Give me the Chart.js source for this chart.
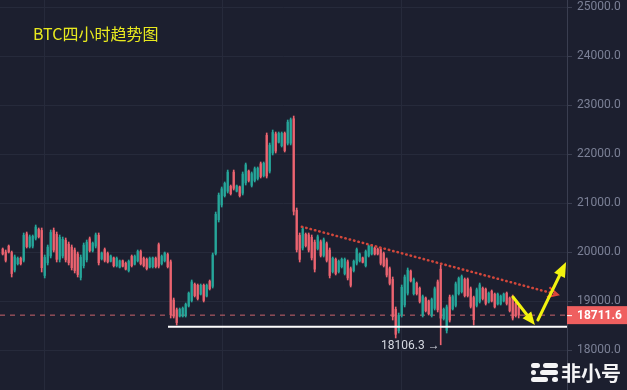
<!DOCTYPE html>
<html><head><meta charset="utf-8">
<script src="https://cdn.jsdelivr.net/npm/chart.js@4.4.1/dist/chart.umd.min.js"></script>
<style>html,body{margin:0;padding:0;background:#1c1f2f;overflow:hidden}canvas{display:block}</style>
</head><body><canvas id="c" width="627" height="390"></canvas>
<script>
// ---- data (4h BTC candles) ----
const opens=[
20060,20000,20120,19990,19630,19760,19870,19830,20370,20110,
20120,20280,20460,20440,19520,19780,19920,20440,20360,19850,
19920,20240,20160,20100,20040,19960,19480,19720,19840,20270,
20030,20120,20340,19860,20050,19970,19810,19880,19720,19690,
19820,19770,19620,19910,19750,19820,20010,19870,19850,19690,
19700,19870,20150,19760,19820,19950,19800,19020,18820,18690,
18690,18700,18900,19010,19340,19320,19140,19320,19100,19400,
19300,19970,20660,20960,21150,21240,21340,21630,21240,21330,
21200,21410,21650,21360,21460,21500,21800,21560,22380,21650,
22020,22410,22240,22170,22420,22220,22220,22720,20850,20340,
20080,20360,20350,20300,20200,20070,20210,19930,20170,20040,
19600,19850,19600,19700,19560,19800,19660,19620,19770,19820,
19880,19720,19920,19960,20080,20060,20050,19970,19840,19660,
19440,18830,18390,18720,18920,19160,19610,19150,19360,19260,
18710,19060,19000,18710,18850,19390,19650,18640,18400,19080,
18840,18910,19150,19190,19440,19440,19250,19070,18910,18990,
19260,19240,18980,19200,19140,18940,18940,19000,19160,19060,
19090,18950,18880];
const highs=[
20082,20041,20143,20020,19939,19898,19898,20388,20408,20347,
20347,20551,20490,20490,19939,20143,20449,20490,20408,20347,
20306,20286,20204,20143,20082,20000,19939,20184,20245,20306,
20204,20388,20388,20000,20082,20000,19939,19898,19898,19837,
19837,19796,19837,19939,19939,20041,20041,19898,19878,19898,
19898,19898,20184,19939,20000,19980,19837,19061,18857,18857,
18878,18959,19184,19429,19367,19347,19347,19347,19347,19429,
19980,20816,21204,21327,21429,21673,21367,21673,21367,21347,
21633,21816,21673,21633,21735,21735,21837,21837,22429,22224,
22490,22449,22449,22449,22449,22694,22735,22775,20898,20388,
20510,20388,20388,20347,20245,20347,20245,20286,20204,20082,
19898,19878,19837,19878,19878,19837,19694,19837,20082,19980,
19898,20041,20143,20143,20102,20082,20082,20000,19878,19694,
19490,18878,18755,19327,19531,19674,19633,19470,19388,19286,
19122,19082,19020,19061,19286,19429,19735,18857,18918,19122,
19122,19388,19490,19531,19470,19470,19286,19100,19265,19367,
19286,19265,19184,19225,19163,19163,19122,19163,19184,19082,
19122,18980,18918];
const lows=[
19939,19796,19980,19490,19592,19735,19735,19796,20082,20082,
20082,20245,20286,19592,19470,19735,19878,20000,19796,19796,
19878,19796,19735,19633,19572,19490,19429,19674,19796,20000,
20000,20082,19735,19837,19796,19776,19796,19694,19694,19674,
19694,19633,19592,19694,19735,19796,19735,19694,19633,19674,
19674,19674,19674,19735,19796,19674,18653,18653,18510,18673,
18673,18673,18878,18980,19082,19020,19122,18980,19082,19225,
19265,19939,20612,20918,21122,21204,21163,21265,21225,21122,
21163,21367,21429,21327,21429,21469,21510,21531,21510,21612,
21980,22020,22224,22143,22041,22184,22184,20755,20000,19796,
20041,20102,20000,19837,19592,20041,19898,19898,19796,19470,
19572,19531,19572,19674,19531,19429,19286,19592,19735,19796,
19776,19694,19898,19939,19939,19939,19735,19694,19490,19327,
18612,18245,18347,18673,18878,19122,19388,19122,19122,18959,
18673,18776,18714,18673,18816,18776,18106.3,18612,18347,18571,
18816,18878,19122,19163,19082,19082,18857,18510,18878,18959,
19020,18918,18959,18980,18857,18918,18918,18980,18918,18776,
18612,18673,18653];
const closes=[
19960,19830,20000,19560,19900,19870,19760,20340,20110,20310,
20320,20510,20310,19680,19890,20100,20400,20040,19850,20300,
20260,19840,19780,19680,19620,19540,19890,20140,20200,20030,
20180,20350,19780,19980,19830,19800,19920,19720,19870,19820,
19710,19650,19810,19720,19910,20010,19760,19720,19660,19870,
19880,19700,19710,19910,19980,19700,18720,18690,18560,18830,
18850,18930,19160,19390,19110,19050,19320,19010,19320,19250,
19940,20770,21160,21290,21400,21630,21190,21300,21350,21150,
21590,21780,21460,21600,21700,21710,21540,21810,21550,22180,
22440,22060,22420,22420,22070,22650,22700,20830,20050,19850,
20470,20130,20040,19880,19650,20310,19930,20250,19830,19520,
19870,19560,19810,19850,19850,19470,19320,19810,20050,19960,
19790,20010,20120,20120,19960,19960,19770,19720,19530,19360,
18680,18320,18710,19280,19490,19630,19410,19440,19150,18990,
19090,18800,18740,19030,19250,18820,18650,18830,18880,18610,
19090,19350,19460,19500,19110,19110,18890,18620,19230,19330,
19050,18950,19160,19000,18880,19140,19100,19140,18950,18800,
18650,18700,18711.6];

const yTicks=[18000,19000,20000,21000,22000,23000,24000,25000];
const xGridAt=[14,73.4,132.8];
const yRange=[17183.8,25142.9];
const xRange=[-0.9,188.1];
const lastPrice=18711.6;
const lowIndex=146, lowLabel='18106.3 →';
const supportLevel=18476, supportFrom=55.1;
const trendLine=[{x:99.7,y:20516},{x:184.4,y:19139}];
const arrowDown=[{x:170.1,y:19082},{x:177.4,y:18510}];
const arrowUp=[{x:178.4,y:18612},{x:187.8,y:19796}];
const titleText='BTC四小时趋势图';
const watermark='非小号';

// ---- styles ----
const UP='#26a69a', DOWN='#ec6470', BG='#1c1f2f', GRID='#262a3b', AXIS_TXT='#7b8096';
const colors=opens.map((o,i)=>closes[i]>=o?UP:DOWN);
const wickData=lows.map((l,i)=>({x:i,y:[l,highs[i]]}));
const bodyData=opens.map((o,i)=>({x:i,y:[o,closes[i]]}));

function arrow(ctx,x0,y0,x1,y1,color,lw,hl,hw){
  const a=Math.atan2(y1-y0,x1-x0);
  const bx=x1-hl*Math.cos(a), by=y1-hl*Math.sin(a);
  ctx.save();ctx.strokeStyle=color;ctx.fillStyle=color;ctx.lineWidth=lw;ctx.lineCap='round';
  ctx.beginPath();ctx.moveTo(x0,y0);ctx.lineTo(bx,by);ctx.stroke();
  ctx.beginPath();ctx.moveTo(x1,y1);
  ctx.lineTo(bx+hw/2*Math.sin(a),by-hw/2*Math.cos(a));
  ctx.lineTo(bx-hw/2*Math.sin(a),by+hw/2*Math.cos(a));
  ctx.closePath();ctx.fill();ctx.restore();
}

const overlay={
  id:'overlay',
  beforeDraw(chart){const c=chart.ctx;c.save();c.fillStyle=BG;c.fillRect(0,0,chart.width,chart.height);c.restore();},
  afterDatasetsDraw(chart){
    const c=chart.ctx,xs=chart.scales.x,ys=chart.scales.y;
    const P=p=>[xs.getPixelForValue(p.x),ys.getPixelForValue(p.y)];
    // trend end chevron
    const [tx0,ty0]=P(trendLine[0]),[tx1,ty1]=P(trendLine[1]);
    const a=Math.atan2(ty1-ty0,tx1-tx0);
    c.save();c.strokeStyle='#e2473b';c.lineWidth=2;c.beginPath();
    c.moveTo(tx1-8*Math.cos(a)+5*Math.sin(a),ty1-8*Math.sin(a)-5*Math.cos(a));
    c.lineTo(tx1+2*Math.cos(a),ty1+2*Math.sin(a));
    c.lineTo(tx1-8*Math.cos(a)-5*Math.sin(a),ty1-8*Math.sin(a)+5*Math.cos(a));
    c.stroke();c.restore();
    // yellow arrows
    let [a0x,a0y]=P(arrowDown[0]),[a1x,a1y]=P(arrowDown[1]);
    arrow(c,a0x,a0y,a1x,a1y,'#f2f20f',3,13,11);
    [a0x,a0y]=P(arrowUp[0]);[a1x,a1y]=P(arrowUp[1]);
    arrow(c,a0x,a0y,a1x,a1y,'#f2f20f',3,15,12);
    // low label
    c.save();c.font='12px Roboto';c.fillStyle='#d6d9e2';c.textAlign='right';c.textBaseline='middle';
    c.fillText(lowLabel,xs.getPixelForValue(lowIndex)-1,ys.getPixelForValue(lows[lowIndex])+1);
    c.restore();
  },
  afterDraw(chart){
    const c=chart.ctx,ys=chart.scales.y,ca=chart.chartArea;
    const y=ys.getPixelForValue(lastPrice);
    c.save();
    c.fillStyle='#ef5f5f';c.fillRect(ca.right,y-9,chart.width-ca.right,18);
    c.strokeStyle='#ffffff';c.lineWidth=1;c.beginPath();c.moveTo(ca.right,y+0.5);c.lineTo(ca.right+5,y+0.5);c.stroke();
    c.fillStyle='#ffffff';c.font='bold 12px Roboto';c.textBaseline='middle';c.textAlign='left';
    c.fillText(lastPrice.toFixed(1),ca.right+10,y+0.5);
    // title
    c.fillStyle='#e9ea1f';c.font='16px "Noto Sans CJK SC"';c.textBaseline='middle';
    c.fillText(titleText,33,34);
    // watermark
    c.fillStyle='#f4f4f6';
    const r=(x,yy,w,h)=>{c.beginPath();c.roundRect(x,yy,w,h,h/2);c.fill();};
    r(531,363,9,5);r(543,363,15,5);
    r(531,370,5,5);r(540,370,18,5);
    r(531,377,17,5);r(552,377,6,5);
    c.font='bold 20px "Noto Sans CJK SC"';c.textBaseline='middle';
    c.fillText(watermark,561,373);
    c.restore();
  }
};

new Chart(document.getElementById('c'),{
  type:'bar',
  data:{datasets:[
    {type:'line',data:[{x:supportFrom,y:supportLevel},{x:xRange[1],y:supportLevel}],borderColor:'#ffffff',borderWidth:2,pointRadius:0,order:0},
    {type:'line',data:trendLine,borderColor:'#d2473b',borderWidth:2.5,borderDash:[0.5,4],borderCapStyle:'round',pointRadius:0,order:0},
    {type:'bar',data:bodyData,backgroundColor:colors,barThickness:1.6,grouped:false,borderWidth:0,order:1},
    {type:'bar',data:wickData,backgroundColor:colors,barThickness:1,grouped:false,borderWidth:0,order:2},
    {type:'line',data:[{x:xRange[0],y:lastPrice},{x:xRange[1],y:lastPrice}],borderColor:'rgba(232,112,118,0.85)',borderWidth:1,borderDash:[5,5],pointRadius:0,order:3}
  ]},
  options:{
    responsive:false,animation:false,devicePixelRatio:1,
    layout:{padding:0},
    plugins:{legend:{display:false},tooltip:{enabled:false}},
    scales:{
      x:{type:'linear',min:xRange[0],max:xRange[1],offset:false,
        grid:{color:GRID,drawTicks:false,offset:false},border:{display:false},
        ticks:{display:false},
        afterBuildTicks:s=>{s.ticks=xGridAt.map(v=>({value:v}));},
        afterFit:s=>{s.height=0;s.paddingLeft=0;s.paddingRight=0;}},
      y:{type:'linear',position:'right',min:yRange[0],max:yRange[1],
        grid:{color:GRID,tickLength:5,tickColor:'#3a3e50'},
        border:{display:true,color:'#3a3e50'},
        ticks:{color:AXIS_TXT,font:{family:'Roboto',size:12},padding:5,callback:v=>Number(v).toFixed(1)},
        afterBuildTicks:s=>{s.ticks=yTicks.map(v=>({value:v}));},
        afterFit:s=>{s.width=60;s.paddingTop=0;s.paddingBottom=0;}}
    }
  },
  plugins:[overlay]
});
</script></body></html>
